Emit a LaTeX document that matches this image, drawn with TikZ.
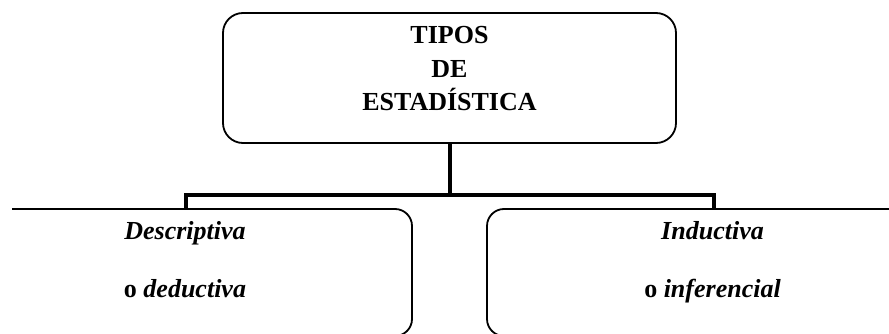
\documentclass[tikz,border=0pt]{standalone}
\usepackage{fontspec}
\setmainfont{Liberation Serif}
\begin{document}
\begin{tikzpicture}[x=1pt,y=-1pt,
  box/.style={draw, line width=1.8pt, rounded corners=20pt, inner sep=0pt},
  conn/.style={line width=4pt, line join=miter},
  lbl/.style={font=\fontsize{26}{33.5}\selectfont\bfseries, align=center, inner sep=0pt},
  sublbl/.style={font=\fontsize{26}{58}\selectfont\bfseries, align=center, inner sep=0pt}]
\useasboundingbox (0,0) rectangle (889,334);
% top box
\node[box, minimum width=453pt, minimum height=130pt] (top) at (449.5,78) {};
\node[lbl] (ttl) at (449.5,69) {TIPOS\\DE\\ESTADÍSTICA};
% lower boxes (cut by the picture's edges)
\begin{scope}
  \clip (12,0) rectangle (889,334);
  \node[box, rounded corners=17pt, minimum width=453pt, minimum height=127pt] (lbox) at (185.5,272.5) {};
  \node[box, rounded corners=17pt, minimum width=453pt, minimum height=127pt] (rbox) at (713.5,272.5) {};
\end{scope}
\node[sublbl] (ltxt) at (185,260) {\textit{Descriptiva}\\o \textit{deductiva}};
\node[sublbl] (rtxt) at (712.5,262.5) {\textit{Inductiva}\\o \textit{inferencial}};
% connectors
\coordinate (jn) at (449.5,195);
\draw[conn] (top.south) -- (jn);
\draw[conn] (lbox.north) |- (jn) -| (rbox.north);
\end{tikzpicture}
\end{document}
